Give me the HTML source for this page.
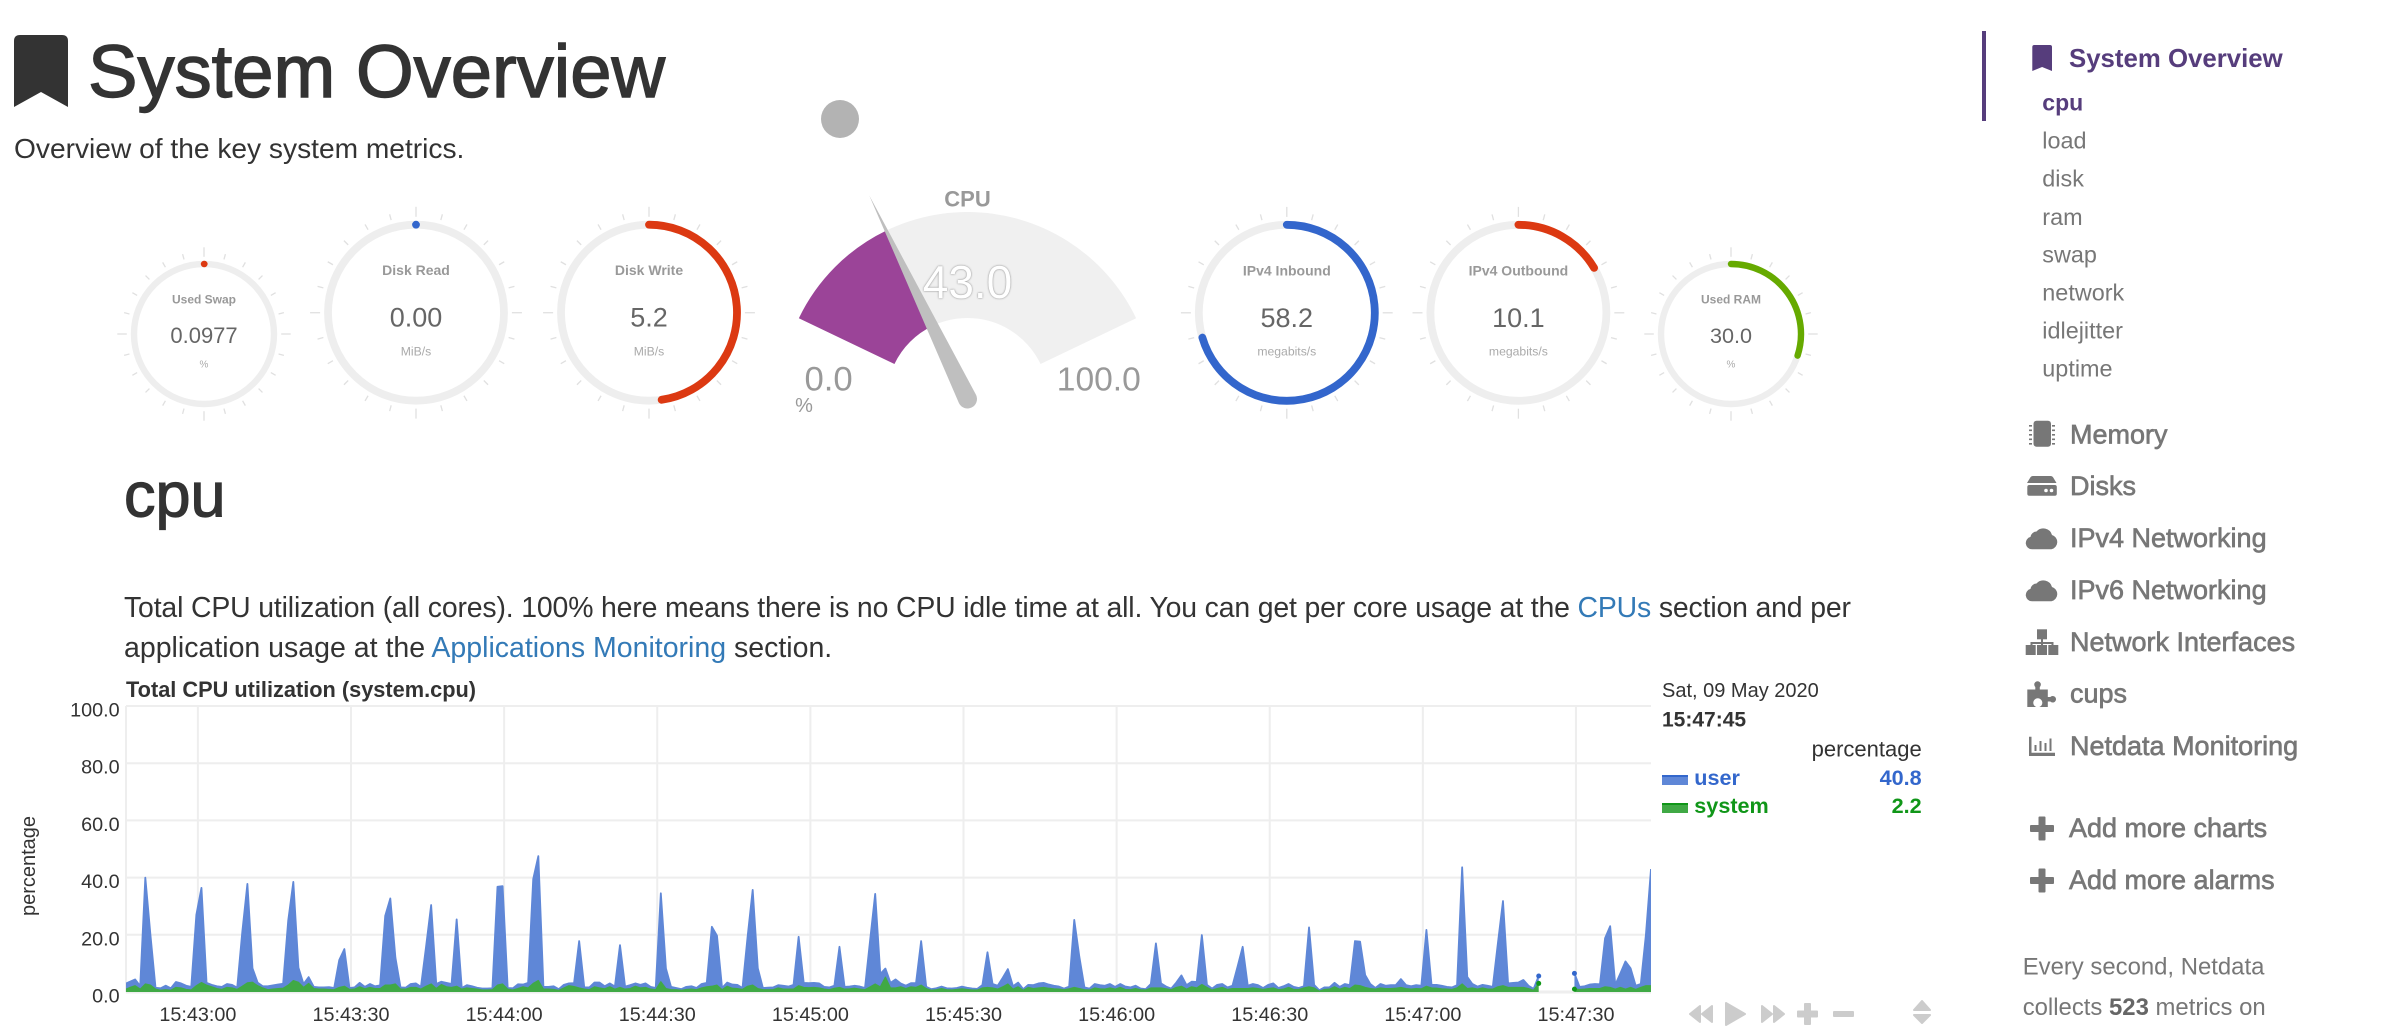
<!DOCTYPE html>
<html lang="en">
<head>
<meta charset="utf-8">
<title>System Overview</title>
<style>
html,body{margin:0;padding:0;background:#fff;width:2388px;height:1030px;overflow:hidden}
svg{display:block;font-family:"Liberation Sans",sans-serif}
.nav{fill:#777;font-size:23.4px}
.sec{fill:#777;stroke:#777;font-size:27px;stroke-width:.65px}
.ico{fill:#777}
.gt{fill:#999;font-weight:bold;text-anchor:middle}
.gv{fill:#666;text-anchor:middle}
.gu{fill:#aaa;text-anchor:middle}
.tick{fill:#333;font-size:19.8px}
.ctl{fill:#ccc;stroke:#ccc;stroke-width:2;stroke-linejoin:round}
</style>
</head>
<body>
<svg id="page" xmlns="http://www.w3.org/2000/svg" width="2388" height="1030" viewBox="0 0 2388 1030">

  <!-- header -->
  <path d="M14 41q0-6 6-6h42q6 0 6 6v66L41 92 14 107z" fill="#333"/>
  <text x="88" y="97" font-size="74.2" fill="#333" stroke="#333" stroke-width="1.4">System Overview</text>
  <text x="14" y="158" font-size="28.15" fill="#333">Overview of the key system metrics.</text>

  <!-- easy pie gauges -->
  <g class="pie" transform="translate(204,334)" data-r="70" data-w="6.4" data-color="#dc3912">
    <text class="gt" y="-30.5" font-size="12">Used Swap</text>
    <text class="gv" y="9" font-size="22">0.0977</text>
    <text class="gu" y="33.5" font-size="10">%</text>
  </g>
  <g class="pie" transform="translate(416,312.7)" data-r="88" data-w="7.8" data-color="#3366cc">
    <text class="gt" y="-37.5" font-size="14">Disk Read</text>
    <text class="gv" y="14" font-size="27">0.00</text>
    <text class="gu" y="42.8" font-size="12.2">MiB/s</text>
  </g>
  <g class="pie" transform="translate(649,312.7)" data-r="88" data-w="7.8" data-color="#dc3912">
    <text class="gt" y="-37.5" font-size="14">Disk Write</text>
    <text class="gv" y="14" font-size="27">5.2</text>
    <text class="gu" y="42.8" font-size="12.2">MiB/s</text>
  </g>
  <g class="pie" transform="translate(1286.8,312.8)" data-r="88" data-w="7.8" data-color="#3366cc">
    <text class="gt" y="-37.5" font-size="14">IPv4 Inbound</text>
    <text class="gv" y="14" font-size="27">58.2</text>
    <text class="gu" y="42.8" font-size="12.2">megabits/s</text>
  </g>
  <g class="pie" transform="translate(1518.4,312.8)" data-r="88" data-w="7.8" data-color="#dc3912">
    <text class="gt" y="-37.5" font-size="14">IPv4 Outbound</text>
    <text class="gv" y="14" font-size="27">10.1</text>
    <text class="gu" y="42.8" font-size="12.2">megabits/s</text>
  </g>
  <g class="pie" transform="translate(1731,334)" data-r="70" data-w="6.4" data-color="#66aa00">
    <text class="gt" y="-30.5" font-size="12">Used RAM</text>
    <text class="gv" y="9" font-size="21.6">30.0</text>
    <text class="gu" y="33.5" font-size="10">%</text>
  </g>

  <!-- CPU gauge -->
  <circle cx="840" cy="119" r="19" fill="#b3b3b3"/>
  <g id="cpuGauge"></g>
  <text x="967.5" y="206.5" font-size="22" font-weight="bold" fill="#999" text-anchor="middle">CPU</text>
  <text x="967.5" y="298" font-size="46" fill="#fff" text-anchor="middle" style="text-shadow:0 0 2px #999,0 0 1px #aaa">43.0</text>
  <text x="828.6" y="390.5" font-size="34.7" fill="#999" text-anchor="middle">0.0</text>
  <text x="1098.8" y="390.5" font-size="33.6" fill="#999" text-anchor="middle">100.0</text>
  <text x="804" y="412" font-size="20" fill="#999" text-anchor="middle">%</text>

  <!-- section heading and description -->
  <text x="124" y="516.7" font-size="63" fill="#333" stroke="#333" stroke-width="1.2">cpu</text>
  <text x="124" y="617" font-size="28.4" letter-spacing="-0.145" fill="#333">Total CPU utilization (all cores). 100% here means there is no CPU idle time at all. You can get per core usage at the <tspan fill="#337ab7">CPUs</tspan> section and per</text>
  <text x="124" y="657" font-size="28.5" fill="#333">application usage at the <tspan fill="#337ab7">Applications Monitoring</tspan> section.</text>

  <!-- chart -->
  <text x="126" y="697" font-size="21.75" font-weight="bold" fill="#333">Total CPU utilization (system.cpu)</text>
  <text transform="translate(35,866) rotate(-90)" font-size="20" fill="#333" text-anchor="middle">percentage</text>
  <defs><clipPath id="plotClip"><rect x="126" y="700" width="1525" height="292"/></clipPath></defs>
  <g id="chart"></g>

  <!-- chart legend -->
  <text x="1662" y="697" font-size="20" fill="#333">Sat, 09 May 2020</text>
  <text x="1662" y="726.7" font-size="21" font-weight="bold" fill="#333">15:47:45</text>
  <text x="1921.7" y="756.7" font-size="22" fill="#333" text-anchor="end">percentage</text>
  <g>
    <rect x="1662" y="775" width="26" height="10" fill="#5f87d7"/>
    <rect x="1662" y="775" width="26" height="2" fill="#3367cc"/>
    <text x="1694.3" y="785" font-size="21.6" font-weight="bold" fill="#3367cc">user</text>
    <text x="1921.7" y="785" font-size="21.6" font-weight="bold" fill="#3367cc" text-anchor="end">40.8</text>
  </g>
  <g>
    <rect x="1662" y="803" width="26" height="10" fill="#40a945"/>
    <rect x="1662" y="803" width="26" height="2" fill="#109618"/>
    <text x="1694.3" y="813" font-size="21.6" font-weight="bold" fill="#109618">system</text>
    <text x="1921.7" y="813" font-size="21.6" font-weight="bold" fill="#109618" text-anchor="end">2.2</text>
  </g>

  <!-- chart controls -->
  <path class="ctl" d="M1690 1014l10-8v16zM1702 1014l10-8v16z"/>
  <path class="ctl" d="M1726 1003l19 11-19 11z"/>
  <path class="ctl" d="M1772 1014l-10-8v16zM1784 1014l-10-8v16z"/>
  <path class="ctl" d="M1805 1004h5v7.500h7v5h-7v7.500h-5v-7.500h-7v-5h7z"/>
  <rect x="1833" y="1011" width="21" height="6" rx="1" fill="#ccc"/>
  <path class="ctl" d="M1922 1001l8 9h-16zM1922 1023l8-8h-16z"/>

  <!-- sidebar -->
  <rect x="1982" y="31" width="4" height="90" fill="#563d7c"/>
  <path d="M2032.300 47q0-2 2-2h15.700q2 0 2 2v24l-9.900-4-9.800 4z" fill="#563d7c"/>
  <text x="2069" y="67" font-size="25.8" font-weight="bold" fill="#563d7c">System Overview</text>
  <text x="2042.300" y="110.500" font-size="23" font-weight="bold" fill="#563d7c">cpu</text>
  <text class="nav" x="2042.300" y="148.500">load</text>
  <text class="nav" x="2042.300" y="186.700">disk</text>
  <text class="nav" x="2042.300" y="224.800">ram</text>
  <text class="nav" x="2042.300" y="262.500">swap</text>
  <text class="nav" x="2042.300" y="300.700">network</text>
  <text class="nav" x="2042.300" y="338.500">idlejitter</text>
  <text class="nav" x="2042.300" y="376.700">uptime</text>

  <g class="ico">
    <rect x="2033.500" y="420.700" width="17.500" height="26" rx="3"/>
    <path d="M2029 425h3v1.600h-3zM2029 429.500h3v1.600h-3zM2029 434h3v1.600h-3zM2029 438.500h3v1.600h-3zM2029 443h3v1.600h-3zM2052 425h3v1.600h-3zM2052 429.500h3v1.600h-3zM2052 434h3v1.600h-3zM2052 438.500h3v1.600h-3zM2052 443h3v1.600h-3z"/>
  </g>
  <text class="sec" x="2070" y="443.500">Memory</text>

  <g class="ico">
    <path d="M2033 476h17.500q2 0 3 2l3 5h-29.500l3-5q1-2 3-2z"/>
    <path d="M2029.300 485h25.500q2 0 2 2v6.700q0 2-2 2h-25.500q-2 0-2-2v-6.700q0-2 2-2z"/>
    <circle cx="2046" cy="490.500" r="1.800" fill="#fff"/><circle cx="2051.500" cy="490.500" r="1.800" fill="#fff"/>
  </g>
  <text class="sec" x="2070" y="495">Disks</text>

  <path class="ico" d="M2032 549.300a6.300 6.300 0 0 1-1.500-12.400a6.200 6.200 0 0 1 6-5.400a9 9 0 0 1 15.500 3.500a7.400 7.400 0 0 1-.5 14.300z"/>
  <text class="sec" x="2070" y="547">IPv4 Networking</text>
  <path class="ico" d="M2032 601.300a6.300 6.300 0 0 1-1.500-12.400a6.200 6.200 0 0 1 6-5.400a9 9 0 0 1 15.500 3.500a7.400 7.400 0 0 1-.5 14.300z"/>
  <text class="sec" x="2070" y="599">IPv6 Networking</text>

  <g class="ico">
    <rect x="2037" y="629.300" width="10" height="10"/>
    <rect x="2025.700" y="645" width="10" height="10"/><rect x="2037" y="645" width="10" height="10"/><rect x="2048.300" y="645" width="10" height="10"/>
    <path d="M2041 639h2v3h10.500v3h-2v-1h-8.500v1h-2v-1h-8.500v1h-2v-3h10.500z"/>
  </g>
  <text class="sec" x="2070" y="651">Network Interfaces</text>

  <path class="ico" d="M2027.300 689.500h8v-2.500a3.300 3.300 0 1 1 4.500 0v2.500h8v7.500h2.500a3.300 3.300 0 1 1 0 4.500h-2.500v5.500h-8.500a4.500 4.500 0 1 0-3 0h-9z"/>
  <text class="sec" x="2070" y="702.500">cups</text>

  <path class="ico" d="M2029 736.700h2.500v16h23.500v3.300h-26zM2034.500 745h2v6h-2zM2039.500 741h2v10h-2zM2044.500 743h2v8h-2zM2049.500 738.500h2v12.500h-2z"/>
  <text class="sec" x="2070" y="755">Netdata Monitoring</text>

  <path class="ico" d="M2038.500 817.500q0-1 1-1h5q1 0 1 1v7.500h7.500q1 0 1 1v5q0 1-1 1h-7.500v7.500q0 1-1 1h-5q-1 0-1-1v-7.500h-7.500q-1 0-1-1v-5q0-1 1-1h7.500z"/>
  <text class="sec" x="2069" y="837">Add more charts</text>
  <path class="ico" d="M2038.500 869.500q0-1 1-1h5q1 0 1 1v7.500h7.500q1 0 1 1v5q0 1-1 1h-7.500v7.500q0 1-1 1h-5q-1 0-1-1v-7.500h-7.500q-1 0-1-1v-5q0-1 1-1h7.500z"/>
  <text class="sec" x="2069" y="889">Add more alarms</text>

  <text x="2022.700" y="974.300" font-size="23.9" fill="#777">Every second, Netdata</text>
  <text x="2022.700" y="1015" font-size="23.9" fill="#777">collects <tspan font-weight="bold" fill="#666">523</tspan> metrics on</text>
</svg>

<script>
// ---- CPU chart data (one sample per second) ----
const firstSampleTime = '15:42:45.7';
const lastSampleTime = '15:47:44.7';
const xTickLabels = ['15:43:00','15:43:30','15:44:00','15:44:30','15:45:00','15:45:30','15:46:00','15:46:30','15:47:00','15:47:30'];
const yTickValues = [0,20,40,60,80,100];
const systemValues = [
0.8,1.6,2.2,1.0,2.8,2.4,1.0,0.6,0.8,0.6,1.6,1.4,0.9,0.7,2.2,3.3,2.4,1.8,1.2,0.9,
1.6,1.4,0.9,2.0,3.2,3.4,2.2,1.4,0.8,1.0,1.2,1.3,2.4,4.0,3.4,1.6,3.0,1.2,1.0,1.0,
0.9,0.8,1.6,2.0,0.9,1.0,1.8,1.1,1.6,1.2,1.2,2.4,2.4,2.8,1.0,1.0,1.6,1.6,1.0,2.0,
2.8,1.2,2.6,1.8,1.6,2.0,1.0,1.4,1.2,1.0,0.7,0.7,0.8,2.4,2.8,1.0,0.7,1.2,1.8,1.4,
3.0,4.0,1.0,1.0,0.9,0.6,1.4,2.2,1.9,1.4,1.0,0.8,1.8,1.4,1.1,1.8,1.0,1.6,1.0,1.2,
2.0,1.4,1.6,1.0,0.8,3.6,1.2,0.8,0.8,0.6,0.9,1.0,0.8,1.4,1.8,2.0,2.4,0.8,2.0,1.3,
1.2,0.9,2.0,2.4,1.2,0.8,0.8,0.8,1.4,1.0,1.0,1.0,2.2,1.6,1.5,1.6,1.4,1.0,0.8,1.3,
1.6,1.0,1.1,1.3,1.0,0.8,1.8,2.8,1.8,5.2,1.4,1.4,1.8,1.2,1.8,1.6,2.4,1.2,0.6,0.8,
1.2,0.8,0.7,0.9,1.1,0.9,0.7,0.7,1.4,1.6,1.4,1.0,1.8,2.8,1.0,1.8,0.6,1.6,1.2,1.4,
1.6,1.3,1.1,1.0,0.8,1.1,1.6,1.2,0.8,0.7,1.4,1.1,1.0,1.4,1.0,1.6,0.9,0.8,1.2,0.8,
0.7,1.4,1.4,1.4,1.1,0.8,1.6,2.0,1.0,1.8,1.4,2.6,1.6,0.7,1.2,1.6,0.9,1.2,1.2,1.2,
1.2,1.4,1.2,0.9,1.2,1.4,0.8,1.0,1.6,0.9,0.9,1.4,1.8,1.4,0.3,0.9,1.0,1.8,1.0,1.6,
1.2,2.4,2.2,1.6,1.2,1.0,1.4,1.2,1.2,1.3,1.6,1.2,1.0,1.2,1.1,2.0,1.4,1.3,1.1,1.0,
0.9,1.4,2.8,1.2,1.4,1.0,1.4,1.0,1.0,1.8,2.2,1.6,1.6,1.6,1.6,1.2,0.6,3.0,null,null,
null,null,null,null,1.0,0.9,1.0,1.2,1.2,1.2,1.8,1.6,1.0,1.6,1.0,1.6,0.9,1.6,2.2,2.2
];
const userValues = [
2.0,2.0,2.2,1.1,37.2,17.6,0.5,0.7,1.4,0.7,1.9,1.6,1.3,1.1,24.8,33.1,0.8,0.7,0.8,0.9,
1.2,1.1,0.6,19.0,34.6,4.9,1.1,0.6,1.2,1.3,1.4,1.6,22.6,34.5,5.1,1.2,2.2,0.6,0.6,0.6,
0.8,0.6,9.6,13.0,0.5,0.6,1.4,0.7,1.2,0.8,1.1,24.2,30.3,9.2,0.6,0.5,1.2,1.4,0.8,13.8,
27.6,1.6,1.0,1.4,1.2,23.4,0.4,1.0,0.8,0.5,0.5,0.5,0.5,34.4,34.2,0.4,0.6,1.5,0.8,1.8,
36.5,43.5,0.8,0.8,1.1,0.4,1.1,0.8,1.2,16.4,0.6,0.8,1.5,1.9,0.9,1.2,0.9,14.8,0.9,1.2,
1.0,1.1,1.4,0.8,0.6,30.9,7.0,1.0,0.6,0.4,0.9,1.0,0.6,1.4,1.4,20.8,17.3,0.6,1.3,1.3,
1.3,0.5,17.3,33.3,7.1,0.6,0.7,0.8,1.0,1.2,0.9,1.5,17.1,1.6,1.6,1.6,1.6,0.8,0.8,0.9,
14.2,0.8,0.8,0.9,0.9,0.6,16.2,31.5,4.5,3.0,1.8,3.0,1.2,1.0,1.3,1.5,15.4,0.6,0.4,0.5,
0.7,0.5,0.5,0.5,0.8,0.6,0.5,0.4,1.0,12.3,1.4,1.2,3.2,5.2,1.0,1.5,0.4,0.9,1.2,1.6,
1.6,1.3,1.1,0.9,0.4,0.8,23.6,11.1,0.8,0.5,1.4,1.3,1.2,1.4,0.8,1.2,1.0,0.8,1.0,0.4,
0.3,1.4,15.6,1.6,0.8,0.4,1.7,3.8,1.4,1.8,2.1,17.3,0.9,0.5,1.3,1.2,0.7,1.0,7.7,14.6,
1.0,1.4,1.2,0.5,1.3,1.6,0.6,1.0,1.2,0.9,0.5,0.6,20.8,1.1,0.3,0.7,0.6,1.4,0.8,1.2,
1.2,15.4,15.4,4.3,1.6,0.4,1.4,1.0,1.2,1.1,2.9,1.2,1.0,1.2,1.1,19.7,1.1,1.2,1.1,0.8,
0.7,1.0,40.8,4.1,1.4,0.9,1.1,1.2,0.8,15.2,29.6,1.4,1.6,1.7,2.6,1.0,0.5,2.6,null,null,
null,null,null,null,5.5,0.9,1.0,1.4,1.6,1.5,17.0,21.4,1.5,4.9,9.7,6.7,1.3,1.2,17.8,40.8
];
// ---- gauge data ----
const pieValues = [0.0977, 0.00, 5.2, 58.2, 10.1, 30.0];
const pieMaxima = [100, 10, 10.9, 82.6, 61.3, 100];
const cpuGaugeMin = 0;
const cpuGaugeMax = 100;
const cpuNeedleValue = 30.0;

const NS = 'http://www.w3.org/2000/svg';
function el(parent, tag, attrs, text) {
  const n = document.createElementNS(NS, tag);
  for (const k in attrs) n.setAttribute(k, attrs[k]);
  if (text !== undefined) n.textContent = text;
  parent.appendChild(n);
  return n;
}

// ---- pie gauges ----
document.querySelectorAll('.pie').forEach(function (g, idx) {
  const r = +g.dataset.r, w = +g.dataset.w, color = g.dataset.color;
  const big = r > 80;
  const tickIn = r + w / 2 + 4, longLen = big ? 10 : 9.5, shortLen = big ? 6 : 5.5;
  for (let a = 0; a < 360; a += 15) {
    const rad = a * Math.PI / 180, len = a % 90 === 0 ? longLen : shortLen;
    const t = el(g, 'line', {
      x1: tickIn * Math.sin(rad), y1: -tickIn * Math.cos(rad),
      x2: (tickIn + len) * Math.sin(rad), y2: -(tickIn + len) * Math.cos(rad),
      stroke: '#e0e0e0', 'stroke-width': 1.3
    });
    
    
  }
  const ring = el(g, 'circle', { r: r, fill: 'none', stroke: '#eee', 'stroke-width': w });
  
  
  const deg = pieValues[idx] / pieMaxima[idx] * 360;
  const rad = deg * Math.PI / 180;
  const d = 'M0 ' + (-r) + 'A' + r + ' ' + r + ' 0 ' + (deg > 180 ? 1 : 0) + ' 1 ' + (r * Math.sin(rad)) + ' ' + (-r * Math.cos(rad));
  const arc = el(g, 'path', { d: d, fill: 'none', stroke: color, 'stroke-width': w, 'stroke-linecap': 'round' });
  
  
});

// ---- CPU gauge ----
(function () {
  const g = document.getElementById('cpuGauge');
  const cx = 967.5, cy = 399, R = 187, ri = 81, a0 = 25.6, span = 128.8;
  const pt = function (rad, a) {
    const t = a * Math.PI / 180;
    return (cx - rad * Math.cos(t)).toFixed(2) + ' ' + (cy - rad * Math.sin(t)).toFixed(2);
  };
  const sector = function (from, to) {
    const large = to - from > 180 ? 1 : 0;
    return 'M' + pt(R, from) + 'A' + R + ' ' + R + ' 0 ' + large + ' 1 ' + pt(R, to) +
      'L' + pt(ri, to) + 'A' + ri + ' ' + ri + ' 0 ' + large + ' 0 ' + pt(ri, from) + 'Z';
  };
  const angle = a0 + span * (cpuNeedleValue - cpuGaugeMin) / (cpuGaugeMax - cpuGaugeMin);
  const track = el(g, 'path', { d: sector(a0, a0 + span), fill: '#f0f0f0' });
  
  
  const fill = el(g, 'path', { d: sector(a0, angle), fill: '#9b4498' });
  
  
  const t = angle * Math.PI / 180, dx = -Math.cos(t), dy = -Math.sin(t), px = -dy, py = dx;
  const hw = 9.5, tipLen = 226;
  const needle = el(g, 'path', {
    d: 'M' + (cx + dx * tipLen) + ' ' + (cy + dy * tipLen) +
       'L' + (cx + px * hw) + ' ' + (cy + py * hw) +
       'A' + hw + ' ' + hw + ' 0 1 1 ' + (cx - px * hw) + ' ' + (cy - py * hw) + 'Z',
    fill: '#bfbfbf'
  });
  
  
})();

// ---- CPU chart ----
(function () {
  const chart = document.getElementById('chart');
  const left = 126, right = 1651, sampleLeft = 124.9, baseY = 992, pxPerUnit = 2.86;
  const secs = function (s) { const p = s.split(':'); return +p[0] * 3600 + +p[1] * 60 + +p[2]; };
  const t0 = secs(firstSampleTime), t1 = secs(lastSampleTime);
  const xScale = function (sec) { return sampleLeft + (sec - t0) / (t1 - t0) * (right - sampleLeft); };
  const yScale = function (v) { return baseY - v * pxPerUnit; };
  const sampleX = function (i) { return xScale(t0 + i); };

  yTickValues.forEach(function (v) {
    const y = yScale(v);
    const line = el(chart, 'line', { x1: left, x2: right, y1: y, y2: y, stroke: '#eee', 'stroke-width': v === 0 ? 3 : 2 });
    
    
    const label = el(chart, 'text', { x: 119.6, y: y + 10.5, 'text-anchor': 'end', class: 'tick' }, v.toFixed(1));
    
    
  });
  const leftAxis = el(chart, 'line', { x1: left, x2: left, y1: yScale(100), y2: baseY, stroke: '#eee', 'stroke-width': 2 });
  
  
  xTickLabels.forEach(function (s) {
    const x = xScale(secs(s));
    const line = el(chart, 'line', { x1: x, x2: x, y1: yScale(100), y2: baseY, stroke: '#eee', 'stroke-width': 2 });
    
    
    const label = el(chart, 'text', { x: x, y: 1021, 'text-anchor': 'middle', class: 'tick' }, s);
    
    
  });

  const marks = el(chart, 'g', { 'clip-path': 'url(#plotClip)' });
  
  

  const segments = [];
  let cur = null;
  userValues.forEach(function (u, i) {
    const s = systemValues[i];
    if (u === null || s === null) { cur = null; return; }
    if (!cur) { cur = []; segments.push(cur); }
    cur.push({ x: sampleX(i), sys: yScale(s), top: yScale(s + u) });
  });
  const f = function (n) { return n.toFixed(2); };
  segments.forEach(function (seg) {
    const topLine = seg.map(function (p) { return f(p.x) + ' ' + f(p.top); }).join('L');
    const sysLine = seg.map(function (p) { return f(p.x) + ' ' + f(p.sys); }).join('L');
    const sysRev = seg.slice().reverse().map(function (p) { return f(p.x) + ' ' + f(p.sys); }).join('L');
    const x0 = f(seg[0].x), x1 = f(seg[seg.length - 1].x);
    const userArea = el(marks, 'path', { d: 'M' + topLine + 'L' + sysRev + 'Z', fill: '#5f87d7' });
    
    
    const userLine = el(marks, 'path', { d: 'M' + topLine, fill: 'none', stroke: '#5f87d7', 'stroke-width': 1.8, 'stroke-linejoin': 'round' });
    
    
    const sysArea = el(marks, 'path', { d: 'M' + sysLine + 'L' + x1 + ' ' + baseY + 'L' + x0 + ' ' + baseY + 'Z', fill: '#40a945' });
    
    
    const sysStroke = el(marks, 'path', { d: 'M' + sysLine, fill: 'none', stroke: '#40a945', 'stroke-width': 1.2, 'stroke-linejoin': 'round' });
    
    
  });
  // dots mark isolated gap edges
  segments.forEach(function (seg, idx) {
    const pick = [];
    if (idx > 0) pick.push(seg[0]);
    if (idx < segments.length - 1) pick.push(seg[seg.length - 1]);
    pick.forEach(function (p) {
      const a = el(chart, 'circle', { cx: p.x, cy: p.top, r: 2.5, fill: '#3367cc' });
      
      
      const b = el(chart, 'circle', { cx: p.x, cy: p.sys, r: 2.5, fill: '#109618' });
      
      
    });
  });
})();
</script>
</body>
</html>
